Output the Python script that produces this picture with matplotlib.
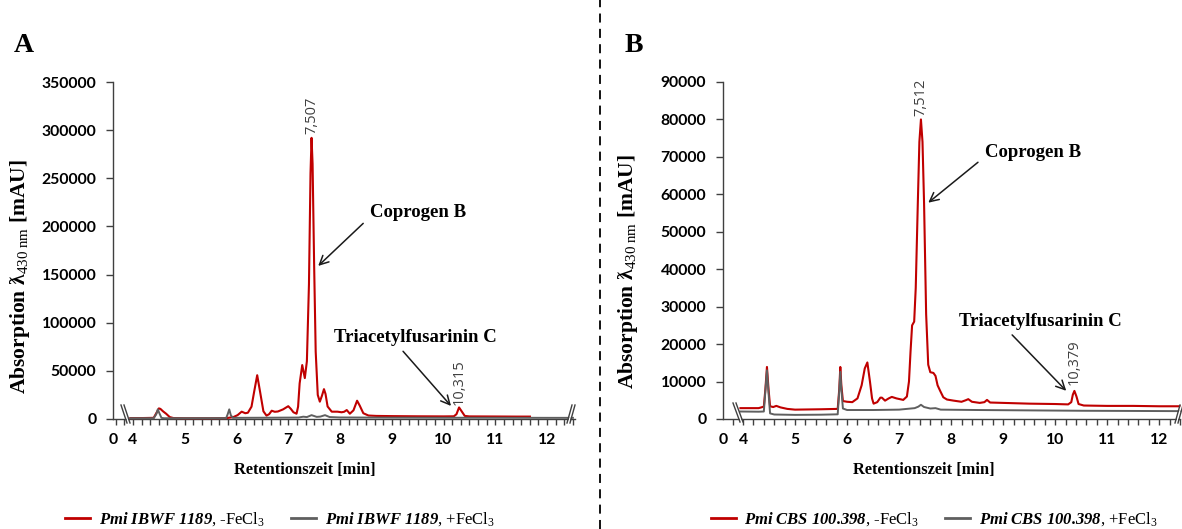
import matplotlib.pyplot as plt
from matplotlib.lines import Line2D
from matplotlib.patches import Polygon
from matplotlib.ticker import MultipleLocator

plt.rcParams['mathtext.fontset'] = 'custom'
plt.rcParams['mathtext.rm'] = 'Liberation Serif'
plt.rcParams['mathtext.it'] = 'Liberation Serif:italic'
plt.rcParams['mathtext.sf'] = 'Liberation Serif:italic:bold'
plt.rcParams['mathtext.bf'] = 'Liberation Serif:bold'

# Panel A: Pmi IBWF 1189
tA_red = [3.95, 4.2, 4.4, 4.45, 4.5, 4.53, 4.58, 4.64, 4.71, 4.78, 5.0, 5.5, 5.8, 5.94,
          6.02, 6.10, 6.17, 6.22, 6.29, 6.34, 6.40, 6.45, 6.52, 6.58, 6.63, 6.68, 6.74,
          6.80, 6.90, 7.0, 7.05, 7.10, 7.16, 7.19, 7.22, 7.27, 7.32, 7.36, 7.40, 7.43,
          7.45, 7.47, 7.50, 7.53, 7.57, 7.61, 7.65, 7.69, 7.72, 7.76, 7.84, 7.95, 8.03,
          8.08, 8.13, 8.19, 8.26, 8.33, 8.38, 8.45, 8.55, 8.7, 9.0, 9.5, 10.0, 10.2,
          10.25, 10.30, 10.35, 10.41, 10.5, 11.0, 11.4, 11.67]
vA_red = [1000, 1000, 1200, 6000, 11000, 10500, 8000, 5500, 2000, 1000, 800, 800, 900, 2000,
          4000, 7600, 6000, 6500, 12800, 28000, 45500, 30000, 8000, 3500, 5000, 8600, 7500,
          7800, 10000, 13300, 10500, 7000, 5500, 12800, 37000, 56000, 42500, 60000, 140000, 255000,
          292000, 265000, 160000, 70000, 25000, 18000, 24000, 31000, 26000, 13000, 7600, 7600, 7000,
          7500, 9300, 5500, 9000, 19000, 14000, 6000, 3600, 3200, 3000, 2800, 2700, 2800,
          5000, 12000, 8000, 3200, 2700, 2600, 2500, 2500]
tA_gray = [3.95, 4.4, 4.45, 4.48, 4.51, 4.55, 4.6, 5.8, 5.83, 5.86, 5.89, 5.93, 6.5, 7.2,
           7.29, 7.36, 7.45, 7.55, 7.62, 7.71, 7.8, 8.0, 9.0, 10.0, 11.0, 12.0, 12.5]
vA_gray = [800, 800, 5000, 10000, 6000, 1200, 800, 900, 5000, 10000, 4000, 1200, 1300, 1500,
           2400, 2000, 4000, 2200, 2500, 4000, 2000, 1600, 1400, 1300, 1300, 1200, 1200]

# Panel B: Pmi CBS 100.398
tB_red = [3.95, 4.3, 4.4, 4.43, 4.46, 4.49, 4.52, 4.58, 4.64, 4.72, 4.85, 5.0, 5.5, 5.82,
          5.85, 5.87, 5.89, 5.92, 6.0, 6.1, 6.2, 6.28, 6.34, 6.39, 6.44, 6.48, 6.51, 6.58,
          6.64, 6.67, 6.73, 6.80, 6.86, 6.95, 7.08, 7.15, 7.19, 7.22, 7.25, 7.29, 7.32, 7.36,
          7.39, 7.42, 7.45, 7.48, 7.52, 7.56, 7.60, 7.66, 7.70, 7.74, 7.79, 7.85, 7.92, 8.05,
          8.2, 8.28, 8.33, 8.40, 8.55, 8.64, 8.69, 8.75, 9.0, 9.5, 10.0, 10.25, 10.31, 10.34,
          10.37, 10.41, 10.45, 10.55, 11.0, 11.5, 12.0, 12.4]
vB_red = [2900, 2900, 3300, 8000, 13900, 8000, 3400, 3200, 3500, 3100, 2700, 2500, 2600, 2700,
          8000, 13900, 9000, 4800, 4600, 4500, 5500, 9000, 13500, 15100, 10000, 5500, 4100, 4500,
          5700, 5700, 4900, 5500, 5900, 5500, 5100, 6000, 10000, 18000, 25000, 26000, 35000, 57700,
          74000, 80000, 74000, 57700, 28000, 14500, 12500, 12300, 11500, 9000, 7500, 5800, 5200, 4900,
          4600, 5000, 5300, 4600, 4300, 4500, 5100, 4400, 4300, 4100, 4000, 3900, 4500, 6500,
          7500, 6000, 4000, 3600, 3500, 3500, 3400, 3400]
tB_gray = [3.95, 4.3, 4.4, 4.43, 4.46, 4.49, 4.52, 4.6, 5.0, 5.5, 5.82, 5.85, 5.87, 5.89,
           5.92, 6.0, 6.5, 7.0, 7.3, 7.37, 7.42, 7.48, 7.6, 7.7, 7.8, 8.5, 9.5, 10.5, 11.5, 12.4]
vB_gray = [2000, 1950, 2000, 7500, 13000, 7000, 1500, 1200, 1100, 1150, 1250, 7500, 12600, 8000,
           2800, 2400, 2400, 2500, 2900, 3300, 3800, 3200, 2800, 2900, 2500, 2400, 2300, 2200, 2150, 2100]

x_ticks = [4, 5, 6, 7, 8, 9, 10, 11, 12]
red = '#C00000'
gray = '#5F5F5F'
W, H = 1182, 529
tick_font = dict(family='Lato', weight='bold', size=11.3)
serif_bold = dict(family=['Liberation Serif', 'DejaVu Serif'], weight='bold')


def slash(ax, ax_w, ax_h, x0, y0, x1, y1):
    # pixel offsets from the axes origin (lower left)
    tr = ax.transAxes
    for dx in (0, 3):
        ax.add_line(Line2D([(x0 + dx) / ax_w, (x1 + dx) / ax_w], [y0 / ax_h, y1 / ax_h],
                           transform=tr, color='#404040', lw=1.0, clip_on=False, zorder=6))
    ax.add_patch(Polygon([[(x0 + 0.8) / ax_w, y0 / ax_h], [(x1 + 0.8) / ax_w, y1 / ax_h],
                          [(x1 + 2.2) / ax_w, y1 / ax_h], [(x0 + 2.2) / ax_w, y0 / ax_h]],
                         closed=True, transform=tr, facecolor='white', edgecolor='none',
                         clip_on=False, zorder=5))


def panel(ax, tr, vr, tg, vg, xmin, xmax, ymax, ystep, minor):
    ax.plot(tr, vr, color=red, lw=1.5, zorder=3, clip_on=False)
    ax.plot(tg, vg, color=gray, lw=1.4, zorder=4, clip_on=False)
    ax.set_xlim(xmin, xmax)
    ax.set_ylim(0, ymax)
    ax.set_xticks([xmin] + x_ticks)
    ax.set_xticklabels(['0'] + [str(v) for v in x_ticks], **tick_font)
    ax.xaxis.set_minor_locator(MultipleLocator(minor))
    ax.set_yticks(range(0, ymax + 1, ystep))
    ax.set_yticklabels([str(v) for v in range(0, ymax + 1, ystep)], **tick_font)
    for s in ['top', 'right']:
        ax.spines[s].set_visible(False)
    for s in ['left', 'bottom']:
        ax.spines[s].set_color('#404040')
        ax.spines[s].set_linewidth(1.0)
    ax.tick_params(axis='y', length=5, width=1, color='#404040', pad=7)
    ax.tick_params(axis='x', which='major', length=4, width=1, color='#404040', pad=6)
    ax.tick_params(axis='x', which='minor', length=4, width=1, color='#404040')
    ax.xaxis.get_major_ticks()[0].tick1line.set_visible(False)
    ax.set_xlabel('Retentionszeit [min]', fontsize=11.8, **serif_bold)
    ax.set_ylabel(r'Absorption ƛ$_{\mathrm{430\ nm}}$ [mAU]', fontsize=15.5, **serif_bold)


fig = plt.figure(figsize=(W / 100, H / 100), dpi=100)
axA = fig.add_axes([113 / W, 1 - 419 / H, 462 / W, 337 / H])
axB = fig.add_axes([723 / W, 1 - 419 / H, 457 / W, 337 / H])

panel(axA, tA_red, vA_red, tA_gray, vA_gray, 3.614, 12.54, 350000, 50000, 1 / 6)
panel(axB, tB_red, vB_red, tB_gray, vB_gray, 3.615, 12.40, 90000, 10000, 0.2)

axA.xaxis.set_label_coords(192 / 462, -43 / 337)
axA.yaxis.set_label_coords(-81 / 462, 142 / 337)
axB.xaxis.set_label_coords(201 / 457, -43 / 337)
axB.yaxis.set_label_coords(-83 / 457, 147 / 337)

slash(axA, 462, 337, 8, 14, 14, -4)
slash(axA, 462, 337, 454, -4, 459, 14)
slash(axB, 457, 337, 10, 16, 17, -3)
slash(axB, 457, 337, 452, -4, 457, 14)

# peak labels
peak_font = dict(family='Open Sans', size=10.5, color='#404040', rotation=90, ha='center', va='bottom')
axA.text(7.45, 296000, '7,507', **peak_font)
axA.text(10.30, 15000, '10,315', **peak_font)
axB.text(7.42, 81000, '7,512', **peak_font)
axB.text(10.37, 9000, '10,379', **peak_font)

arrow = dict(arrowstyle='->', color='#1a1a1a', lw=1.1, mutation_scale=16)
axA.annotate('Coprogen B', xy=(7.54, 157000), xytext=(8.58, 214000), va='center', ha='left',
             fontsize=13.5, arrowprops=dict(relpos=(-0.05, 0.0), **arrow), **serif_bold)
axA.annotate('Triacetylfusarinin C', xy=(10.18, 11400), xytext=(9.45, 84200), va='center', ha='center',
             fontsize=13.5, arrowprops=dict(relpos=(0.4, 0.0), **arrow), **serif_bold)
axB.annotate('Coprogen B', xy=(7.52, 57300), xytext=(8.65, 71300), va='center', ha='left',
             fontsize=13.5, arrowprops=dict(relpos=(-0.05, 0.0), **arrow), **serif_bold)
axB.annotate('Triacetylfusarinin C', xy=(10.25, 7000), xytext=(9.71, 26000), va='center', ha='center',
             fontsize=13.5, arrowprops=dict(relpos=(0.3, 0.0), **arrow), **serif_bold)

fig.text(24 / W, 1 - 45 / H, 'A', fontsize=20, ha='center', va='center', **serif_bold)
fig.text(634 / W, 1 - 45 / H, 'B', fontsize=20, ha='center', va='center', **serif_bold)

fig.add_artist(Line2D([600 / W, 600 / W], [0, 1], transform=fig.transFigure,
                      color='black', lw=1.3, ls=(0, (5, 3.5))))

# legends
for ax, name, xc in [(axA, r'Pmi\ IBWF\ 1189', 280), (axB, r'Pmi\ CBS\ 100.398', 934)]:
    handles = [Line2D([], [], color=red, lw=2), Line2D([], [], color=gray, lw=2)]
    labels = [r'$\mathsf{' + name + r'}$, -FeCl$_3$', r'$\mathsf{' + name + r'}$, +FeCl$_3$']
    fig.legend(handles, labels, loc='center', bbox_to_anchor=(xc / W, 1 - 519 / H),
               ncol=2, frameon=False, handlelength=1.5, handletextpad=0.5, columnspacing=1.6,
               prop=dict(family='Liberation Serif', size=12))

fig.savefig('out.png', dpi=100)
